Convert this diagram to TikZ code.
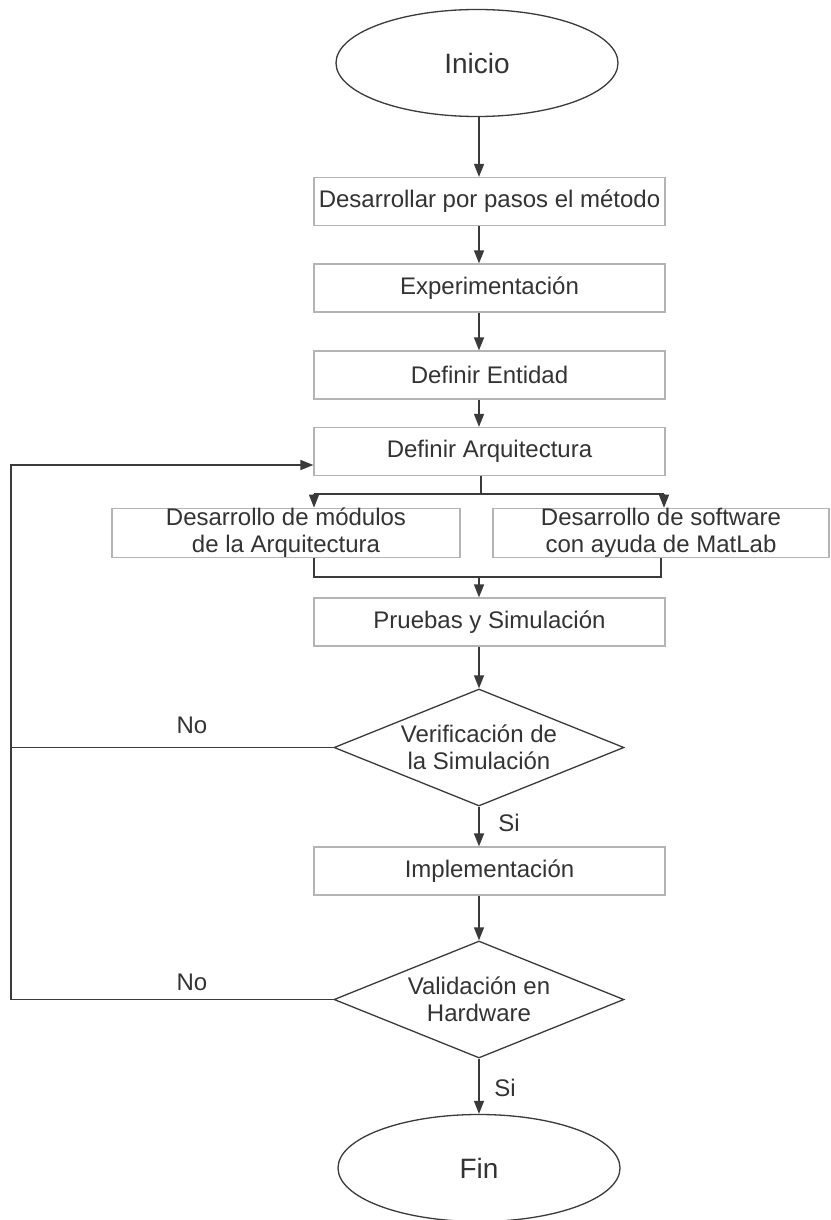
\documentclass[tikz,border=0pt]{standalone}
\usepackage{fontspec}
\setmainfont{Liberation Sans}
\usetikzlibrary{shapes.geometric,arrows.meta}
\definecolor{txt}{HTML}{333333}
\definecolor{ln}{HTML}{3A3A3A}
\definecolor{bx}{HTML}{B4B4B4}
\tikzset{
  stepbox/.style={draw=bx, line width=1.2pt, fill=white, inner sep=0pt, minimum height=48pt, text=txt, align=center, font=\fontsize{24}{27}\selectfont},
  termnode/.style={ellipse, draw=ln, line width=1.3pt, fill=white, inner sep=0pt, minimum width=282pt, minimum height=107pt, text=txt, font=\fontsize{28}{32}\selectfont},
  decnode/.style={diamond, draw=ln, line width=1.3pt, fill=white, inner sep=0pt, minimum width=290pt, minimum height=117pt},
  dectext/.style={text=txt, align=center, font=\fontsize{24}{27}\selectfont, inner sep=0pt},
  lbl/.style={text=txt, font=\fontsize{24}{27}\selectfont, inner sep=0pt},
  conn/.style={draw=ln, line width=1.4pt},
  arr/.style={conn, -{Triangle[length=13pt, width=10pt]}},
}
\begin{document}
\begin{tikzpicture}[x=1pt, y=-1pt]
\useasboundingbox (0,0) rectangle (830,1220);
\fill[white] (0,0) rectangle (830,1220);

\coordinate (col) at (479,0);

\node[termnode] (ini) at (477,63) {Inicio};
\node[stepbox, minimum width=351pt] (b1) at (489.5,201.5) {Desarrollar por pasos el método};
\node[stepbox, minimum width=351pt] (b2) at (489.5,288) {Experimentación};
\node[stepbox, minimum width=351pt] (b3) at (489.5,375) {Definir Entidad};
\node[stepbox, minimum width=351pt] (b4) at (489.5,451.5) {Definir Arquitectura};
\node[stepbox, minimum width=348pt] (lb) at (286,533) {Desarrollo de módulos\\de la Arquitectura};
\node[stepbox, minimum width=336pt] (rb) at (661,533) {Desarrollo de software\\con ayuda de MatLab};
\node[stepbox, minimum width=351pt] (pr) at (489.5,622) {Pruebas y Simulación};
\node[decnode] (d1) at (479,747.5) {};
\node[dectext] (d1t) at (d1) {Verificación de\\la Simulación};
\node[stepbox, minimum width=351pt] (im) at (489.5,871) {Implementación};
\node[decnode] (d2) at (479,999.5) {};
\node[dectext] (d2t) at (d2) {Validación en\\Hardware};
\node[termnode] (fin) at (479,1168) {Fin};

% main column
\draw[arr] (ini.south -| col) -- (b1.north -| col);
\draw[arr] (b1.south -| col) -- (b2.north -| col);
\draw[arr] (b2.south -| col) -- (b3.north -| col);
\draw[arr] (b3.south -| col) -- (b4.north -| col);

% split
\coordinate (split) at (481,494);
\coordinate (ls) at (314,494);
\coordinate (rs) at (664,494);
\draw[conn] (b4.south -| split) -- (split);
\draw[conn] (ls) -- (rs);
\draw[arr] (ls) -- (ls |- lb.north);
\draw[arr] (rs) -- (rs |- rb.north);

% merge
\coordinate (mg) at (479,577);
\coordinate (lm) at (314,577);
\coordinate (rm) at (661,577);
\draw[conn] (lm |- lb.south) -- (lm) -- (rm) -- (rm |- rb.south);
\draw[arr] (mg) -- (mg |- pr.north);

\draw[arr] (pr.south -| d1.north) -- (d1.north);
\draw[arr] (d1.south) -- (d1.south |- im.north);
\draw[arr] (im.south -| d2.north) -- (d2.north);
\draw[arr] (d2.south) -- (d2.south |- fin.north);

% feedback
\coordinate (fb) at (11,465);
\draw[conn] (d1.west) -- (fb |- d1.west);
\draw[arr] (d2.west) -- (fb |- d2.west) -- (fb) -- (fb -| b4.west);

% labels
\node[lbl] (no1) at (192,725) {No};
\node[lbl] (no2) at (192,982) {No};
\node[lbl] (si1) at (509,823) {Si};
\node[lbl] (si2) at (505,1088) {Si};
\end{tikzpicture}
\end{document}
